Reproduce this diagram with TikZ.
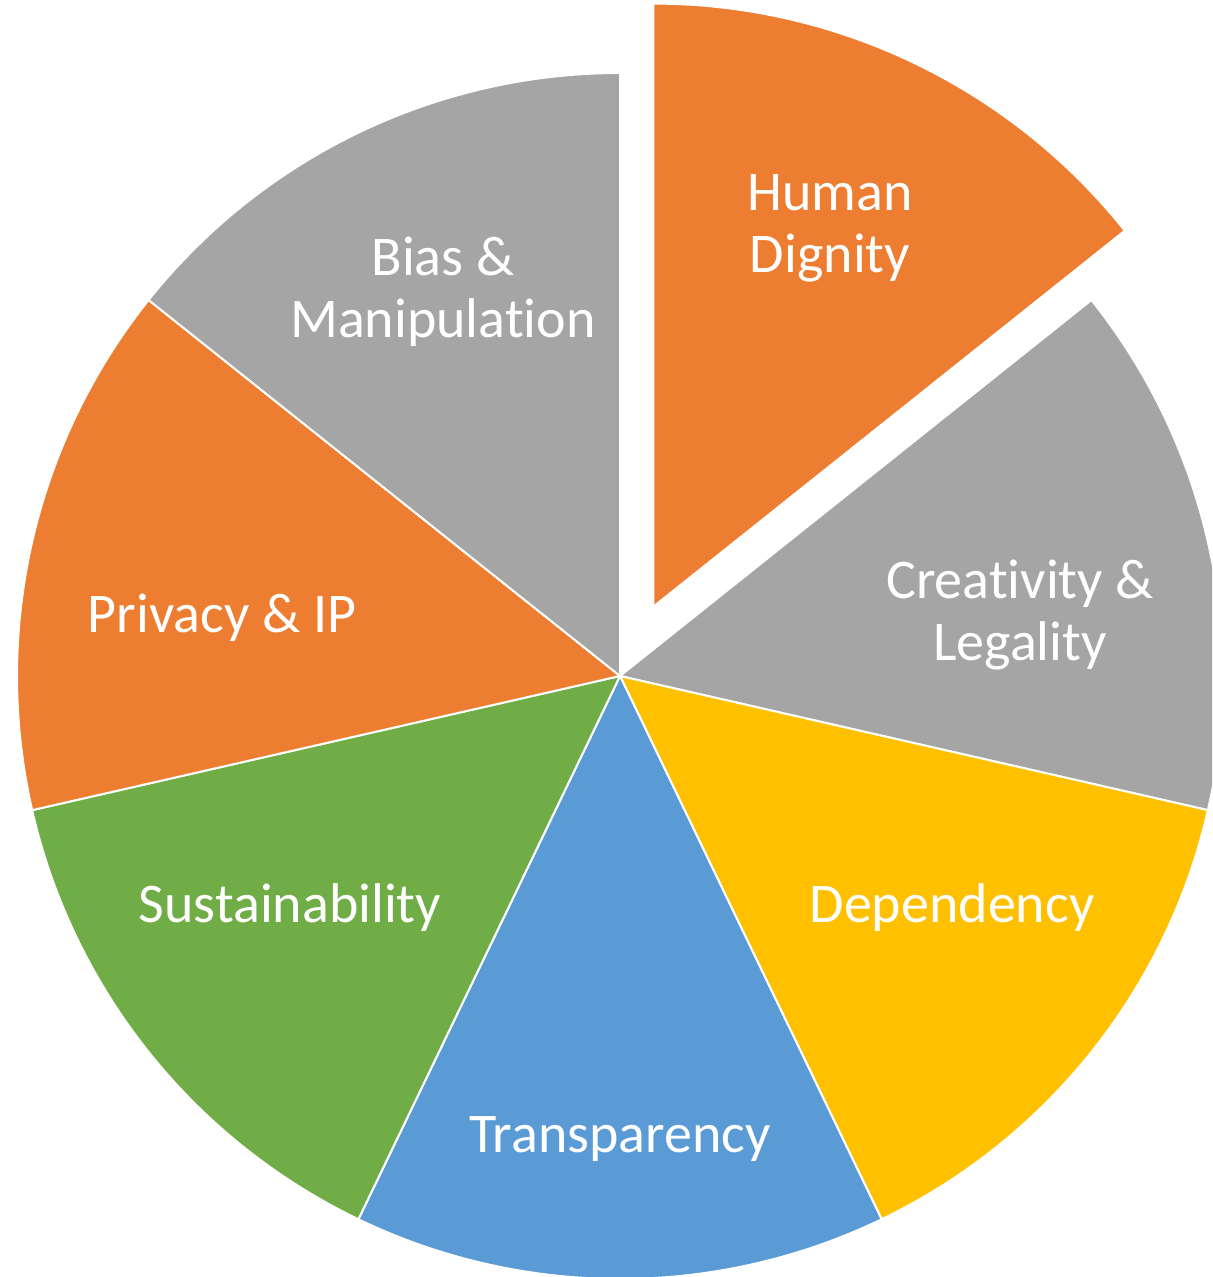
\documentclass[tikz,border=0pt]{standalone}
\usepackage{fontspec}
\setmainfont[Ligatures={NoCommon}]{Carlito}
\definecolor{pieorange}{HTML}{ED7D31}
\definecolor{piegray}{HTML}{A5A5A5}
\definecolor{pieyellow}{HTML}{FFC000}
\definecolor{pieblue}{HTML}{5B9BD5}
\definecolor{piegreen}{HTML}{70AD47}
\tikzset{
  slice/.style={draw=white,line width=1pt},
  slicetext/.style={text=white,align=center,font=\fontsize{28}{31}\selectfont}
}
\begin{document}
\begin{tikzpicture}[x=0.5pt,y=0.5pt]
  \useasboundingbox (0,0) rectangle (1212,1277);
  \clip (0,0) rectangle (1212,1277);
  \coordinate (c) at (620,601);

  % seven equal slices, one pulled out
  \foreach \a/\col in {-12.857/piegray,-64.286/pieyellow,-115.714/pieblue,
                       -167.143/piegreen,141.429/pieorange,90/piegray}
    \fill[\col,slice] (c) -- ++(\a:603)
      arc[start angle=\a,end angle=\a+51.429,radius=603] -- cycle;
  \fill[pieorange,slice] ([shift={(64.286:77)}]c) coordinate (hd) -- ++(38.571:603)
    arc[start angle=38.571,end angle=90,radius=603] -- cycle;

  % labels
  \node[slicetext] (dignity) at (830,1049) {Human\\Dignity};
  \node[slicetext] (creativity) at (1020,662) {Creativity \&\\Legality};
  \node[slicetext] (dependency) at (952,369) {Dependency};
  \node[slicetext] (transparency) at (620,138) {Transparency};
  \node[slicetext] (sustain) at (290,369) {Sustainability};
  \node[slicetext] (privacy) at (222,659) {Privacy \& IP};
  \node[slicetext] (bias) at (443,985) {Bias \&\\Manipulation};
\end{tikzpicture}
\end{document}
